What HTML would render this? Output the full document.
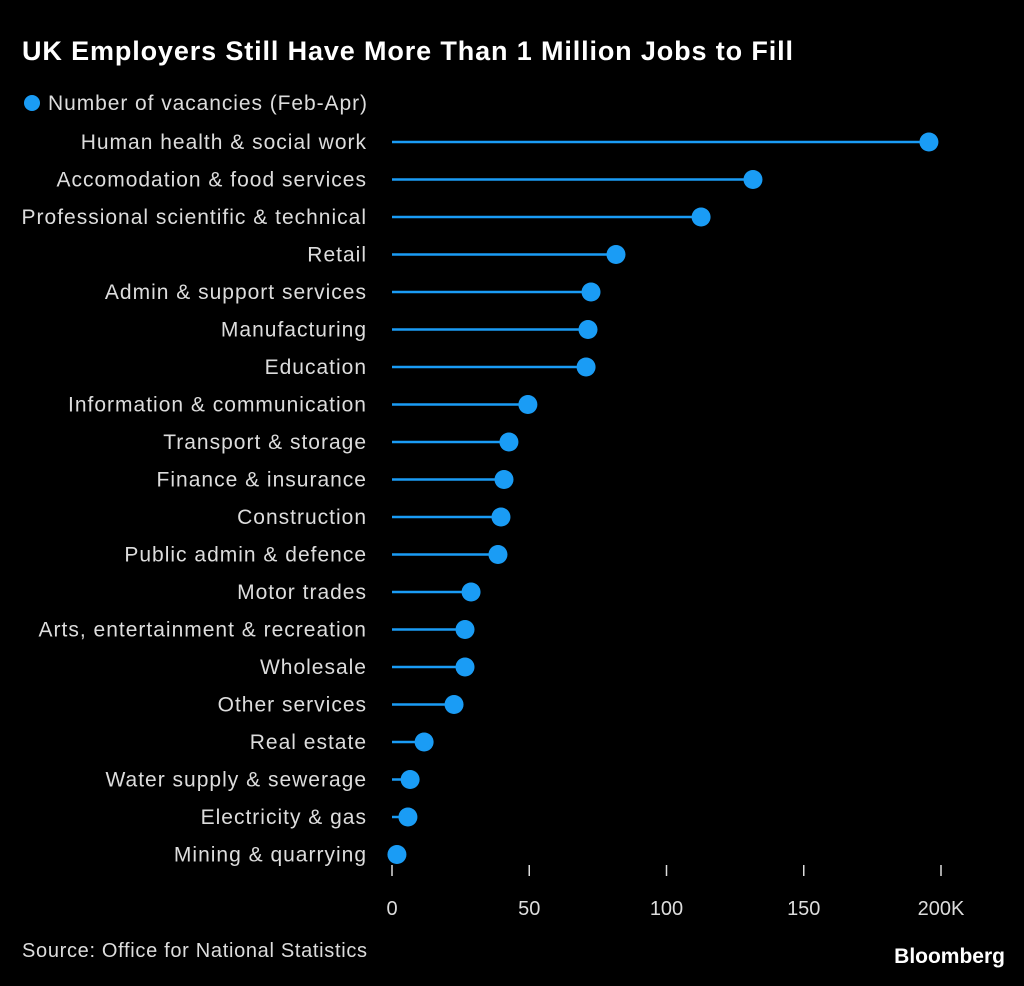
<!DOCTYPE html>
<html><head><meta charset="utf-8"><style>
html,body{margin:0;padding:0;background:#000;}
body{width:1024px;height:981px;overflow:hidden;font-family:"Liberation Sans",sans-serif;}
</style></head><body>
<svg width="1024" height="981" viewBox="0 0 1024 981" id="chart" font-family="Liberation Sans, sans-serif">
<text x="22" y="60" fill="#fff" font-size="27" font-weight="bold" textLength="771" lengthAdjust="spacing">UK Employers Still Have More Than 1 Million Jobs to Fill</text>
<circle cx="32" cy="103" r="8" fill="#1a9cf5"/>
<text x="48" y="110" fill="#ddd" font-size="21" textLength="319" lengthAdjust="spacing">Number of vacancies (Feb-Apr)</text>
<g id="plot"></g>
<text x="22" y="957" fill="#ddd" font-size="20" textLength="345" lengthAdjust="spacing">Source: Office for National Statistics</text>
<text x="1005" y="963" fill="#fff" font-size="21" font-weight="bold" text-anchor="end">Bloomberg</text>
</svg>
<script>
const categories=["Human health & social work","Accomodation & food services","Professional scientific & technical","Retail","Admin & support services","Manufacturing","Education","Information & communication","Transport & storage","Finance & insurance","Construction","Public admin & defence","Motor trades","Arts, entertainment & recreation","Wholesale","Other services","Real estate","Water supply & sewerage","Electricity & gas","Mining & quarrying"];
const vacancies=[195.6,131.5,112.6,81.6,72.5,71.4,70.7,49.5,42.6,40.8,39.7,38.6,28.8,26.6,26.6,22.6,11.7,6.6,5.8,1.8];
const ticks=[0,50,100,150,200];
const tickLabels=["0","50","100","150","200K"];
const NS="http://www.w3.org/2000/svg";
const g=document.getElementById('plot');
const x=v=>392+v*2.745;
const y=i=>142+i*37.5;
function mk(t,a,p){const e=document.createElementNS(NS,t);for(const k in a)e.setAttribute(k,a[k]);(p||g).appendChild(e);return e;}
categories.forEach((c,i)=>{
  const l=mk('text',{x:367,y:y(i)+7,fill:'#ddd','font-size':21,'letter-spacing':1,'text-anchor':'end'});
  l.textContent=c;
  
  
  const ln=mk('line',{x1:x(0),x2:x(vacancies[i]),y1:y(i),y2:y(i),stroke:'#1a9cf5','stroke-width':2.5});
  
  
  const d=mk('circle',{cx:x(vacancies[i]),cy:y(i),r:9.5,fill:'#1a9cf5'});
  
  
});
ticks.forEach((t,i)=>{
  const tk=mk('line',{x1:x(t),x2:x(t),y1:865,y2:876,stroke:'#ddd','stroke-width':1.5});
  
  
  const tl=mk('text',{x:x(t),y:915,fill:'#ddd','font-size':20,'text-anchor':'middle'});
  tl.textContent=tickLabels[i];
  
  
});
</script>
</body></html>
